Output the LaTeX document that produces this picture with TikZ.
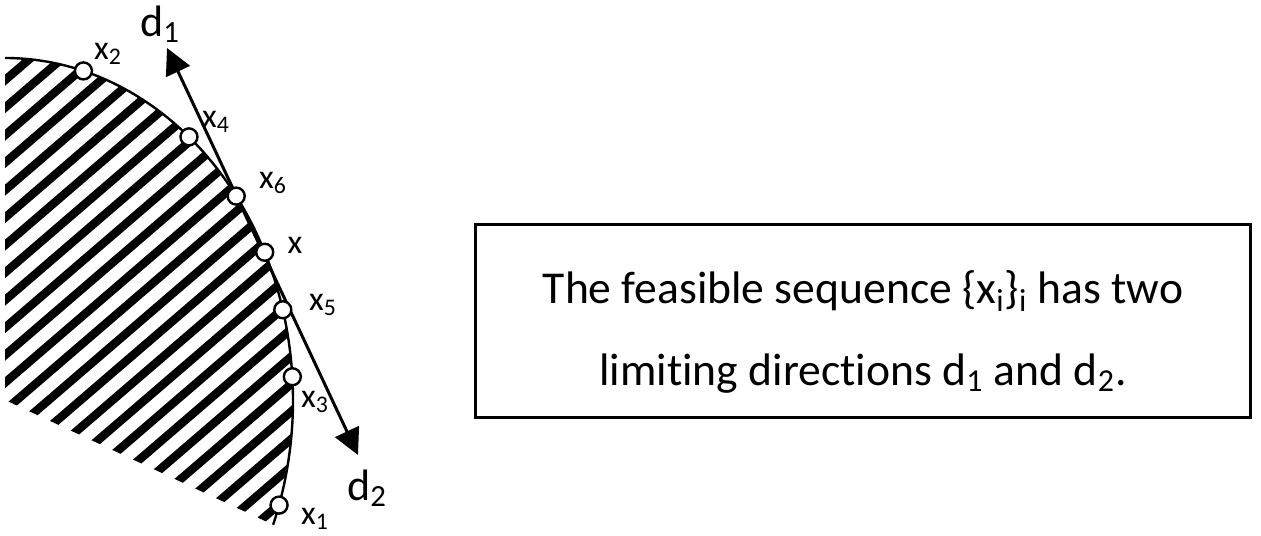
\documentclass[tikz,border=0pt]{standalone}
\usepackage{fontspec}
\setmainfont{Carlito}[Ligatures=NoCommon]
\usetikzlibrary{arrows.meta}
\begin{document}
\begin{tikzpicture}[x=0.5pt,y=0.5pt,>={Triangle[length=13pt,width=13pt]},
  pt/.style={circle,draw,fill=white,line width=1.2pt,minimum size=8.5pt,inner sep=0pt},
  lbl/.style={font=\fontsize{17}{19}\selectfont,inner sep=0pt},
  dlbl/.style={font=\fontsize{22}{24}\selectfont,inner sep=0pt}]
\useasboundingbox (0,0) rectangle (1261,535);
% hatched region
\begin{scope}
\clip (5,135) -- (5,477) arc[start angle=90,end angle=-21.4,x radius=288,y radius=342] -- cycle;
\foreach \k in {-22,...,7}
  \draw[line width=4.2pt] (0,313+27.5*\k) -- ++(400,344);
\end{scope}
\draw[line width=1.2pt] (5,477) arc[start angle=90,end angle=-21.4,x radius=288,y radius=342];
% limiting directions
\coordinate (d1) at (167,487);
\coordinate (d2) at (358,80);
\draw[<->,line width=1.5pt] (d1) -- (d2);
\node[dlbl] (d1lbl) at (160,511) {d\textsubscript{1}};
\node[dlbl] (d2lbl) at (367,47) {d\textsubscript{2}};
% sequence points
\node[pt] (x2) at ([shift={(5,135)}]74.2:288 and 342) {};
\node[pt] (x4) at ([shift={(5,135)}]50.3:288 and 342) {};
\node[pt] (x6) at ([shift={(5,135)}]36.6:288 and 342) {};
\node[pt] (x) at ([shift={(5,135)}]25.6:288 and 342) {};
\node[pt] (x5) at ([shift={(5,135)}]15.3:288 and 342) {};
\node[pt] (x3) at ([shift={(5,135)}]3.9:288 and 342) {};
\node[pt] (x1) at ([shift={(5,135)}]-17.9:288 and 342) {};
\node[lbl] (x2lbl) at (108,481) {x\textsubscript{2}};
\node[lbl] (x4lbl) at (216,413) {x\textsubscript{4}};
\node[lbl] (x6lbl) at (273,352) {x\textsubscript{6}};
\node[lbl] (xlbl) at (295,290) {x};
\node[lbl] (x5lbl) at (323,230) {x\textsubscript{5}};
\node[lbl] (x3lbl) at (315,133) {x\textsubscript{3}};
\node[lbl] (x1lbl) at (315,16) {x\textsubscript{1}};
% note
\node[draw,line width=1.5pt,minimum width=387.5pt,minimum height=96pt] (note) at (862.5,214) {};
\node[align=center,font=\fontsize{22.8}{41}\selectfont] (notetext) at (863,203)
  {The feasible sequence \{x\textsubscript{i}\}\textsubscript{i} has two\\
   limiting directions d\textsubscript{1} and d\textsubscript{2}.};
\end{tikzpicture}
\end{document}
